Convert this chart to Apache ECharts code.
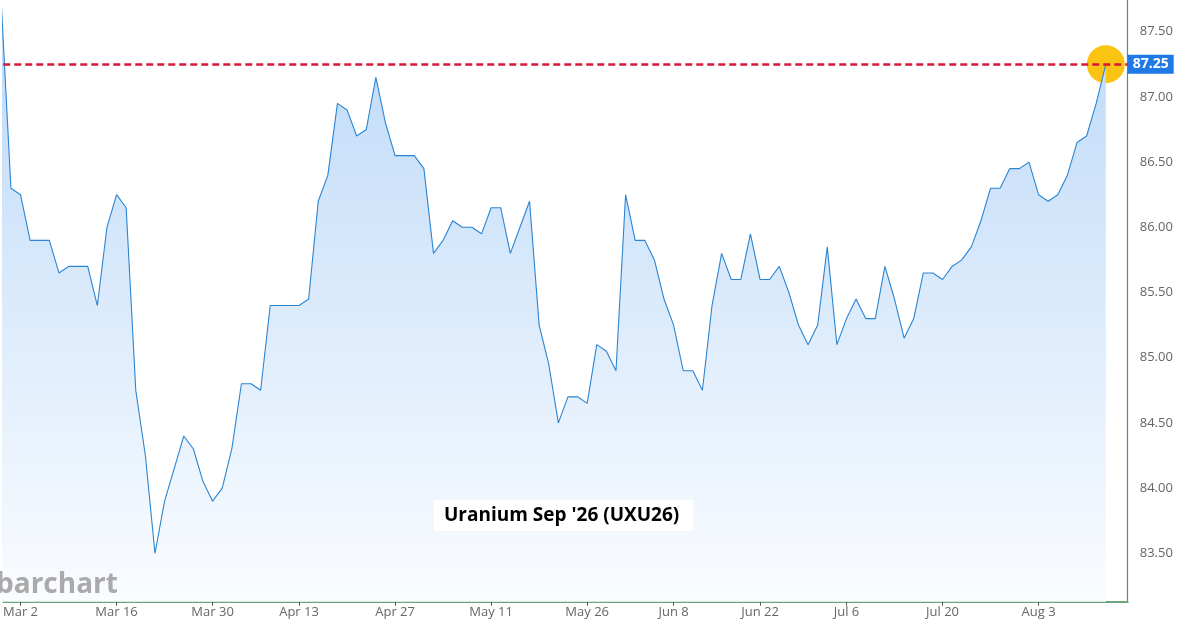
<!DOCTYPE html>
<html>
<head>
<meta charset="utf-8">
<script src="https://cdn.jsdelivr.net/npm/echarts@6/dist/echarts.min.js"></script>
<style>
html,body{margin:0;padding:0;background:#fff;}
#chart{width:1196px;height:626px;}
</style>
</head>
<body>
<div id="chart"></div>
<script>
// Daily settlement prices, one per trading day (index 0 = Feb 26, 115 = Aug 12)
const prices = [
  87.72, 86.30, 86.25, 85.90, 85.90, 85.90, 85.65, 85.70, 85.70, 85.70,
  85.40, 86.00, 86.25, 86.15, 84.75, 84.25, 83.50, 83.90, 84.15, 84.40,
  84.30, 84.05, 83.90, 84.00, 84.30, 84.80, 84.80, 84.75, 85.40, 85.40,
  85.40, 85.40, 85.45, 86.20, 86.40, 86.95, 86.90, 86.70, 86.75, 87.15,
  86.80, 86.55, 86.55, 86.55, 86.45, 85.80, 85.90, 86.05, 86.00, 86.00,
  85.95, 86.15, 86.15, 85.80, 86.00, 86.20, 85.25, 84.95, 84.50, 84.70,
  84.70, 84.65, 85.10, 85.05, 84.90, 86.25, 85.90, 85.90, 85.75, 85.45,
  85.25, 84.90, 84.90, 84.75, 85.40, 85.80, 85.60, 85.60, 85.95, 85.60,
  85.60, 85.70, 85.50, 85.25, 85.10, 85.25, 85.85, 85.10, 85.30, 85.45,
  85.30, 85.30, 85.70, 85.45, 85.15, 85.30, 85.65, 85.65, 85.60, 85.70,
  85.75, 85.85, 86.05, 86.30, 86.30, 86.45, 86.45, 86.50, 86.25, 86.20,
  86.25, 86.40, 86.65, 86.70, 86.95, 87.25
];
const xTickIndex = [2, 12, 22, 31, 41, 51, 61, 70, 79, 88, 98, 108];
const xTickLabels = ['Mar 2', 'Mar 16', 'Mar 30', 'Apr 13', 'Apr 27', 'May 11', 'May 26', 'Jun 8', 'Jun 22', 'Jul 6', 'Jul 20', 'Aug 3'];
const yTickValues = [83.5, 84.0, 84.5, 85.0, 85.5, 86.0, 86.5, 87.0, 87.5];
const lastPrice = 87.25;
const titleText = "Uranium Sep '26 (UXU26)";

const seriesData = prices.map((v, i) => [i, v]);
const lastIndex = prices.length - 1;

const chart = echarts.init(document.getElementById('chart'), null, {renderer: 'canvas'});
const FONT = '"Open Sans", "Noto Sans", sans-serif';

chart.setOption({
  animation: false,
  backgroundColor: '#ffffff',
  textStyle: {fontFamily: FONT},
  grid: {left: 0, right: 68.3, top: 0, bottom: 24.3, containLabel: false},
  xAxis: {
    type: 'value',
    min: 0.204,
    max: 117.28,
    splitLine: {show: false},
    axisLine: {show: true, lineStyle: {color: '#6ea67c', width: 2}},
    axisTick: {show: true, customValues: xTickIndex, length: 4, lineStyle: {color: '#4b5a50', width: 1}},
    axisLabel: {
      customValues: xTickIndex,
      color: '#666',
      fontSize: 13,
      fontFamily: FONT,
      margin: 4,
      formatter: (v) => {
        const k = xTickIndex.indexOf(Math.round(v));
        return k >= 0 ? xTickLabels[k] : '';
      }
    }
  },
  yAxis: {
    type: 'value',
    position: 'right',
    min: 83.129,
    max: 87.743,
    splitLine: {show: false},
    axisLine: {show: true, lineStyle: {color: '#4f9a5e', width: 1.2}},
    axisTick: {show: false},
    axisLabel: {
      customValues: yTickValues,
      color: '#666',
      fontSize: 13,
      fontFamily: FONT,
      margin: 12,
      formatter: (v) => v.toFixed(2)
    }
  },
  graphic: [
    {
      type: 'text',
      left: -4,
      top: 571,
      z: 100,
      zlevel: 1,
      style: {
        text: 'barchart',
        fill: '#aaaaaa',
        font: '700 28px ' + FONT
      }
    },
    {
      type: 'rect',
      left: 434,
      top: 500,
      z: 100,
      zlevel: 1,
      shape: {x: 0, y: 0, width: 259, height: 31},
      style: {fill: 'rgba(255,255,255,0.95)'}
    },
    {
      type: 'text',
      left: 444,
      top: 506,
      z: 101,
      zlevel: 1,
      style: {text: titleText, fill: '#000', font: '700 19px ' + FONT}
    }
  ],
  series: [
    {
      type: 'scatter',
      z: 1,
      data: [[lastIndex, prices[lastIndex]]],
      symbol: 'circle',
      symbolSize: 38,
      itemStyle: {color: '#fcc412', opacity: 1},
      silent: true
    },
    {
      type: 'line',
      z: 3,
      data: seriesData,
      showSymbol: false,
      symbol: 'none',
      clip: true,
      lineStyle: {color: '#2a84d2', width: 1.1},
      areaStyle: {
        opacity: 1,
        color: new echarts.graphic.LinearGradient(0, 0, 0, 1, [
          {offset: 0, color: '#bcd9f8'},
          {offset: 1, color: '#fafcff'}
        ])
      },
      markLine: {
        silent: true,
        symbol: ['none', 'none'],
        data: [{yAxis: lastPrice}],
        lineStyle: {color: '#d6163a', type: [7, 4], width: 2.6},
        label: {
          show: true,
          position: 'end',
          distance: 0,
          formatter: lastPrice.toFixed(2),
          backgroundColor: '#1f7ae6',
          color: '#ffffff',
          fontWeight: 'bold',
          fontSize: 14,
          fontFamily: FONT,
          padding: [3, 5, 2, 5]
        }
      }
    }
  ]
});
</script>
</body>
</html>
